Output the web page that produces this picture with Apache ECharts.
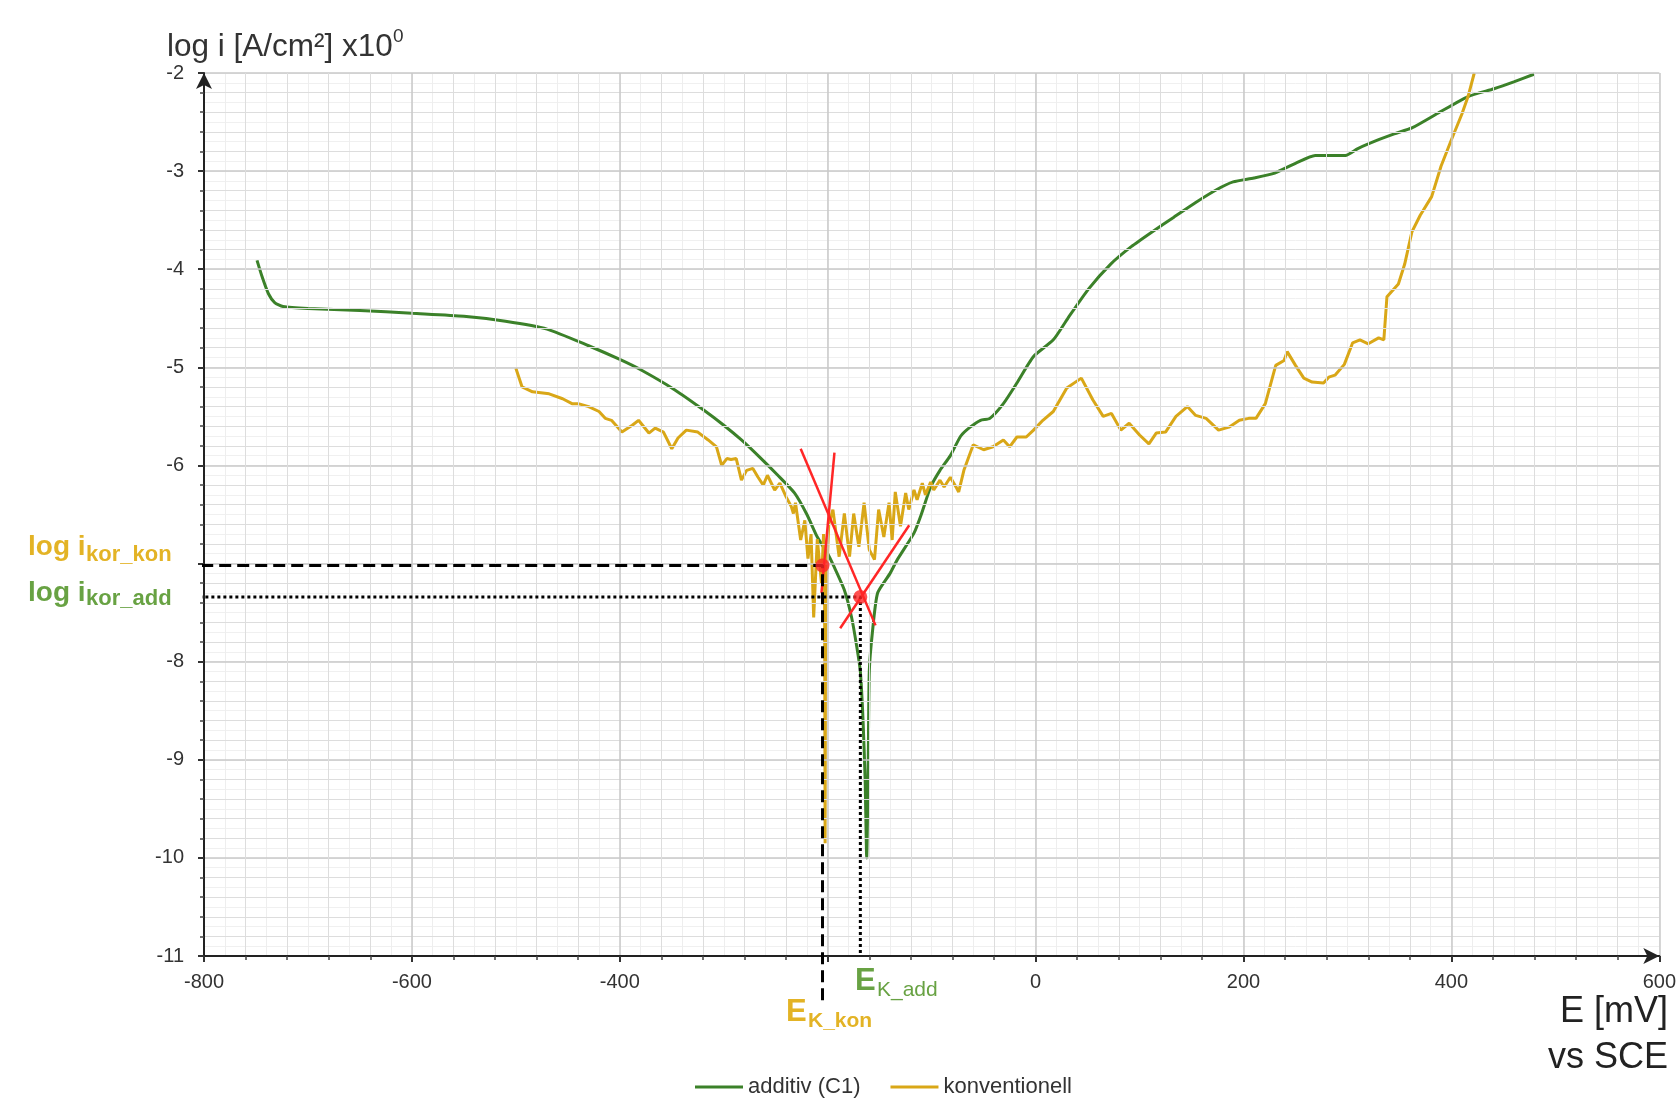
<!DOCTYPE html>
<html>
<head>
<meta charset="utf-8">
<title>Stromdichte-Potential-Kurve</title>
<script src="https://cdn.jsdelivr.net/npm/echarts@6/dist/echarts.min.js"></script>
<style>
  html, body { margin: 0; padding: 0; background: #fff; }
  #chart { width: 1679px; height: 1098px; }
</style>
</head>
<body>
<div id="chart"></div>
<script>
// E [mV] vs log i
const additivData = [
  [-749, -3.91], [-744, -4.08], [-738, -4.25], [-732, -4.34], [-724, -4.38], [-700, -4.40],
  [-650, -4.42], [-600, -4.45], [-550, -4.48], [-510, -4.53], [-470, -4.61], [-430, -4.78],
  [-400, -4.92], [-379, -5.03], [-347, -5.23], [-320, -5.43], [-300, -5.59], [-283, -5.74],
  [-265, -5.92], [-248, -6.10], [-232, -6.28], [-220, -6.50], [-210, -6.73], [-200, -6.90],
  [-194, -7.03], [-184, -7.27], [-177, -7.55], [-172, -7.85], [-168.6, -8.1], [-166, -8.6],
  [-164, -9.2], [-162.5, -10.0], [-161, -9.0], [-160, -8.1], [-157, -7.7], [-152, -7.3],
  [-140, -7.1], [-133, -6.96], [-117, -6.69], [-110, -6.5], [-101, -6.22], [-92, -6.05],
  [-82, -5.9], [-72, -5.7], [-63, -5.61], [-53, -5.54], [-44, -5.52], [-31, -5.37],
  [-18, -5.16], [-2, -4.89], [17, -4.72], [31, -4.50], [51, -4.2], [72, -3.95], [92, -3.77],
  [112, -3.62], [133, -3.47], [154, -3.32], [174, -3.19], [190, -3.11], [210, -3.07],
  [230, -3.02], [250, -2.92], [269, -2.84], [298, -2.84], [310, -2.77], [330, -2.68],
  [345, -2.62], [362, -2.56], [387, -2.41], [416, -2.24], [441, -2.16], [460, -2.09], [480, -2.01]
];

const konventionellData = [
  [-500, -5.01], [-494, -5.20], [-484, -5.25], [-468, -5.27], [-455, -5.32], [-446, -5.37],
  [-440, -5.37], [-430, -5.40], [-420, -5.45], [-414, -5.52], [-408, -5.54], [-398, -5.66],
  [-388, -5.59], [-382, -5.54], [-372, -5.67], [-366, -5.62], [-358, -5.66], [-350, -5.83],
  [-344, -5.72], [-336, -5.64], [-325, -5.66], [-315, -5.74], [-307, -5.81], [-302, -6.0],
  [-297, -5.93], [-293, -5.94], [-288, -5.93], [-283, -6.15], [-278, -6.05], [-272, -6.03],
  [-267, -6.12], [-262, -6.20], [-258, -6.10], [-251, -6.25], [-246, -6.18], [-240, -6.32],
  [-235, -6.42], [-233, -6.49], [-231, -6.38], [-226, -6.76], [-222, -6.56], [-219, -6.95],
  [-216, -6.70], [-213.5, -7.55], [-210, -6.75], [-206, -7.2], [-204, -6.7], [-203, -7.3],
  [-202.5, -9.85], [-202, -7.4], [-199, -6.6], [-195, -6.45], [-189, -6.93], [-184, -6.49],
  [-179, -6.93], [-175, -6.49], [-170, -6.83], [-165, -6.38], [-160, -6.86], [-155, -6.96],
  [-151, -6.45], [-146, -6.73], [-141, -6.38], [-138, -6.76], [-135, -6.27], [-130, -6.62],
  [-125, -6.28], [-122, -6.45], [-117, -6.25], [-114, -6.35], [-109, -6.18], [-106, -6.30],
  [-101, -6.17], [-98, -6.25], [-92, -6.15], [-88, -6.22], [-82, -6.12], [-76, -6.23],
  [-74, -6.27], [-69, -6.05], [-60, -5.79], [-50, -5.84], [-41, -5.81], [-31, -5.74],
  [-25, -5.81], [-18, -5.71], [-9, -5.71], [-2, -5.64], [7, -5.54], [17, -5.45], [30, -5.21],
  [44, -5.11], [55, -5.33], [65, -5.50], [73, -5.47], [82, -5.64], [90, -5.57], [100, -5.69],
  [109, -5.78], [116, -5.67], [125, -5.66], [135, -5.50], [146, -5.40], [154, -5.49],
  [164, -5.52], [176, -5.64], [186, -5.61], [196, -5.54], [205, -5.52], [212, -5.52],
  [221, -5.37], [231, -4.98], [239, -4.93], [242, -4.84], [250, -4.98], [258, -5.11],
  [266, -5.15], [277, -5.16], [282, -5.10], [288, -5.08], [297, -4.97], [305, -4.75],
  [312, -4.72], [320, -4.76], [330, -4.70], [335, -4.72], [338, -4.28], [349, -4.15],
  [355, -3.95], [362, -3.62], [370, -3.45], [381, -3.26], [390, -2.95], [400, -2.68],
  [410, -2.42], [416, -2.24], [422, -2.0]
];

// corrosion points (E_K, log i_kor)
const korKon = [-205, -7.02];
const korAdd = [-168.6, -7.34];

// Tafel lines
const tafelA = [[-226, -5.83], [-154, -7.63]];
const tafelB = [[-193.5, -5.87], [-206, -7.30]];
const tafelC = [[-121.6, -6.61], [-188, -7.66]];

const xMin = -800, xMax = 600;
const yMin = -11, yMax = -2;
// tick labels covered by the annotations in the original
const hiddenXLabels = [-200];
const hiddenYLabels = [-7];
const legendNames = ['additiv (C1)', 'konventionell'];

const GREEN = '#3b8129';
const GOLD = '#d9a717';
const RED = '#ff2626';
const FONT = 'Liberation Sans';

const chart = echarts.init(document.getElementById('chart'));

function helperLine(data, type, color, width) {
  return {
    type: 'line',
    data: data,
    symbol: 'none',
    silent: true,
    clip: false,
    z: 4,
    lineStyle: { color: color, width: width, type: type }
  };
}

chart.setOption({
  animation: false,
  backgroundColor: '#fff',
  grid: { left: 204, right: 13, top: 73, bottom: 142 },
  legend: {
    data: legendNames,
    icon: 'rect',
    left: 690,
    top: 1071,
    itemWidth: 48,
    itemHeight: 3,
    itemGap: 30,
    textStyle: { fontFamily: FONT, fontSize: 22, color: '#333' }
  },
  xAxis: [
    {
      type: 'value', min: xMin, max: xMax, interval: 200,
      axisLine: { onZero: false, symbol: ['none', 'arrow'], symbolSize: [12, 16], lineStyle: { color: '#222', width: 2 } },
      axisTick: { length: 6, lineStyle: { color: '#333', width: 2 } },
      minorTick: { show: true, splitNumber: 5, length: 4, lineStyle: { color: '#444', width: 1.5 } },
      axisLabel: {
        margin: 16, fontFamily: FONT, fontSize: 20, color: '#333',
        formatter: v => hiddenXLabels.includes(v) ? '' : String(v)
      },
      splitLine: { lineStyle: { color: '#c9c9c9', width: 1.5 } },
      minorSplitLine: { show: true, lineStyle: { color: '#dddddd', width: 1 } },
      z: 3
    },
    {
      type: 'value', min: xMin, max: xMax, interval: 20,
      axisLine: { show: false }, axisTick: { show: false }, axisLabel: { show: false },
      splitLine: { lineStyle: { color: '#eeeeee', width: 1 } },
      z: 1
    }
  ],
  yAxis: [
    {
      type: 'value', min: yMin, max: yMax, interval: 1,
      axisLine: { onZero: false, symbol: ['none', 'arrow'], symbolSize: [12, 16], lineStyle: { color: '#222', width: 2 } },
      axisTick: { length: 6, lineStyle: { color: '#333', width: 2 } },
      minorTick: { show: true, splitNumber: 5, length: 4, lineStyle: { color: '#444', width: 1.5 } },
      axisLabel: {
        margin: 20, fontFamily: FONT, fontSize: 20, color: '#333',
        formatter: v => hiddenYLabels.includes(v) ? '' : String(v)
      },
      splitLine: { lineStyle: { color: '#c9c9c9', width: 1.5 } },
      minorSplitLine: { show: true, lineStyle: { color: '#dddddd', width: 1 } },
      z: 3
    },
    {
      type: 'value', min: yMin, max: yMax, interval: 0.1, position: 'left',
      axisLine: { show: false }, axisTick: { show: false }, axisLabel: { show: false },
      splitLine: { lineStyle: { color: '#f0f0f0', width: 1 } },
      z: 1
    }
  ],
  series: [
    {
      name: legendNames[0],
      type: 'line',
      data: additivData,
      symbol: 'none',
      smooth: 0.2,
      z: 2,
      itemStyle: { color: GREEN },
      lineStyle: { color: GREEN, width: 3 }
    },
    {
      name: legendNames[1],
      type: 'line',
      data: konventionellData,
      symbol: 'none',
      z: 2,
      itemStyle: { color: GOLD },
      lineStyle: { color: GOLD, width: 3 }
    },
    helperLine(tafelA, 'solid', RED, 2.5),
    helperLine(tafelB, 'solid', RED, 2.5),
    helperLine(tafelC, 'solid', RED, 2.5),
    helperLine([[-820, korKon[1]], korKon, [korKon[0], -11.45]], [12, 6], '#000', 3),
    helperLine([[-816, korAdd[1]], korAdd, [korAdd[0], yMin]], [3, 3], '#000', 3),
    {
      type: 'scatter',
      data: [korKon, korAdd],
      symbolSize: 14,
      silent: true,
      z: 5,
      itemStyle: { color: RED }
    }
  ],
  graphic: [
    { type: 'text', x: 167, y: 47, style: { text: 'log i [A/cm²] x10', font: '31.5px ' + FONT, fill: '#333', verticalAlign: 'middle' } },
    { type: 'text', x: 393, y: 37, style: { text: '0', font: '19px ' + FONT, fill: '#333', verticalAlign: 'middle' } },

    { type: 'text', x: 28, y: 547, style: { text: 'log i', font: 'bold 28px ' + FONT, fill: '#e3b325', verticalAlign: 'middle' } },
    { type: 'text', x: 86, y: 555, style: { text: 'kor_kon', font: 'bold 22px ' + FONT, fill: '#e3b325', verticalAlign: 'middle' } },
    { type: 'text', x: 28, y: 593, style: { text: 'log i', font: 'bold 28px ' + FONT, fill: '#68a243', verticalAlign: 'middle' } },
    { type: 'text', x: 86, y: 599, style: { text: 'kor_add', font: 'bold 22px ' + FONT, fill: '#68a243', verticalAlign: 'middle' } },

    { type: 'text', x: 855, y: 981, style: { text: 'E', font: 'bold 31px ' + FONT, fill: '#68a243', verticalAlign: 'middle' } },
    { type: 'text', x: 877, y: 990, style: { text: 'K_add', font: '21px ' + FONT, fill: '#68a243', verticalAlign: 'middle' } },
    { type: 'text', x: 786, y: 1012, style: { text: 'E', font: 'bold 31px ' + FONT, fill: '#e3b325', verticalAlign: 'middle' } },
    { type: 'text', x: 808, y: 1021, style: { text: 'K_kon', font: 'bold 21px ' + FONT, fill: '#e3b325', verticalAlign: 'middle' } },

    { type: 'text', x: 1668, y: 1012, style: { text: 'E [mV]', font: '36px ' + FONT, fill: '#222', align: 'right', verticalAlign: 'middle' } },
    { type: 'text', x: 1668, y: 1058, style: { text: 'vs SCE', font: '36px ' + FONT, fill: '#222', align: 'right', verticalAlign: 'middle' } }
  ]
});
</script>
</body>
</html>
